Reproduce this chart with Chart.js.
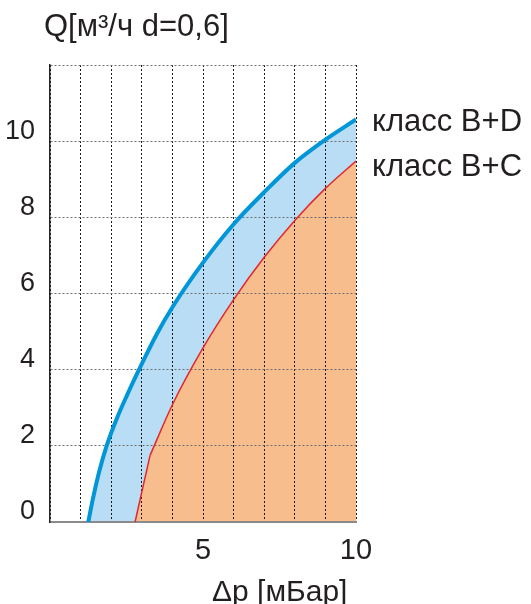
<!DOCTYPE html>
<html>
<head>
<meta charset="utf-8">
<script src="https://cdn.jsdelivr.net/npm/chart.js@4.4.1/dist/chart.umd.min.js"></script>
<style>
  body { margin: 0; background: #fff; }
  #chart { display: block; }
</style>
</head>
<body>
<canvas id="chart" width="531" height="604"></canvas>
<script>
// Values: pressure drop (mBar) vs. flow Q (m3/h)
var bdPressure = [1.25, 1.4, 1.6, 1.85, 2.2, 2.5, 3, 3.5, 4, 5, 6, 7, 8, 9, 10];
var bdFlow     = [0, 0.6, 1.3, 2.0, 2.75, 3.3, 4.15, 4.95, 5.64, 6.81, 7.82, 8.66, 9.43, 10.04, 10.57];

// B+C has a sharp bend at the second point (straight part below it)
var bcPressure = [2.78, 3.27, 4, 5, 6, 7, 8, 9, 10];
var bcFlow     = [0, 1.75, 3.08, 4.57, 5.84, 6.95, 7.92, 8.76, 9.48];
var bcBend = 1;

var xTickLabels = [5, 10];
var yTickLabels = [0, 2, 4, 6, 8, 10];

var seriesNames = ['класс B+D', 'класс B+C'];
var titleText = 'Q[м³/ч d=0,6]';
var xTitleText = 'Δp [мБар]';

var textColor = '#231f20';
var fontFamily = '"Liberation Sans", Arial, sans-serif';

function toPoints(xs, ys) {
  return xs.map(function (x, i) { return { x: x, y: ys[i] }; });
}

var bcPoints = toPoints(bcPressure, bcFlow);

// Draws the title, axis title and the series labels at the line ends
var textPlugin = {
  id: 'texts',
  afterDraw: function (chart) {
    var ctx = chart.ctx;
    var area = chart.chartArea;
    var y = chart.scales.y;
    ctx.save();
    ctx.fillStyle = textColor;
    ctx.textBaseline = 'alphabetic';
    ctx.textAlign = 'left';

    ctx.font = '31px ' + fontFamily;
    ctx.fillText(titleText, 44, 36);

    ctx.font = '30px ' + fontFamily;
    ctx.fillText(xTitleText, 212, 601);

    ctx.font = '31px ' + fontFamily;
    ctx.fillText(seriesNames[0], area.right + 16, y.getPixelForValue(bdFlow[bdFlow.length - 1]) + 12);
    ctx.fillText(seriesNames[1], area.right + 16, y.getPixelForValue(bcFlow[bcFlow.length - 1]) + 15);
    ctx.restore();
  }
};

var redStyle = {
  borderColor: '#e4262c',
  borderWidth: 1.5,
  backgroundColor: '#f8bd8c',
  fill: 'origin',
  pointRadius: 0
};

new Chart(document.getElementById('chart'), {
  type: 'line',
  data: {
    datasets: [
      // class B+C, curved part (orange area, thin red line)
      Object.assign({ label: seriesNames[1], data: bcPoints.slice(bcBend), cubicInterpolationMode: 'monotone' }, redStyle),
      // class B+C, straight part below the bend
      Object.assign({ label: seriesNames[1], data: bcPoints.slice(0, bcBend + 1), tension: 0 }, redStyle),
      {
        // class B+D (light blue area, thick blue line)
        label: seriesNames[0],
        data: toPoints(bdPressure, bdFlow),
        borderColor: '#0096d8',
        borderWidth: 4,
        backgroundColor: '#b9ddf4',
        fill: 'origin',
        pointRadius: 0,
        cubicInterpolationMode: 'monotone'
      }
    ]
  },
  options: {
    responsive: false,
    animation: false,
    layout: { padding: { left: 0, top: 65, right: 175, bottom: 0 } },
    plugins: {
      legend: { display: false },
      tooltip: { enabled: false },
      filler: { drawTime: 'beforeDraw' }   // fills under the dotted grid
    },
    scales: {
      x: {
        type: 'linear',
        min: 0,
        max: 10,
        afterFit: function (scale) { scale.height = 82; },
        ticks: {
          stepSize: 1,
          autoSkip: false,
          maxRotation: 0,
          padding: 12,
          color: textColor,
          font: { family: fontFamily, size: 29 },
          callback: function (v) { return xTickLabels.indexOf(v) >= 0 ? String(v) : ''; }
        },
        grid: { color: '#1a1a1a', lineWidth: 1, drawTicks: false },
        border: { display: true, color: '#8a8a8a', width: 2, dash: [2, 2] }
      },
      y: {
        type: 'linear',
        min: 0,
        max: 12,
        afterFit: function (scale) { scale.width = 50; },
        ticks: {
          stepSize: 2,
          padding: 15,
          labelOffset: -10,
          color: textColor,
          font: { family: fontFamily, size: 27 },
          callback: function (v) { return yTickLabels.indexOf(v) >= 0 ? String(v) : ''; }
        },
        grid: { color: '#6e6e6e', lineWidth: 1, drawTicks: false },
        border: { display: true, color: '#222', width: 1.5, dash: [2, 2] }
      }
    }
  },
  plugins: [textPlugin]
});
</script>
</body>
</html>
